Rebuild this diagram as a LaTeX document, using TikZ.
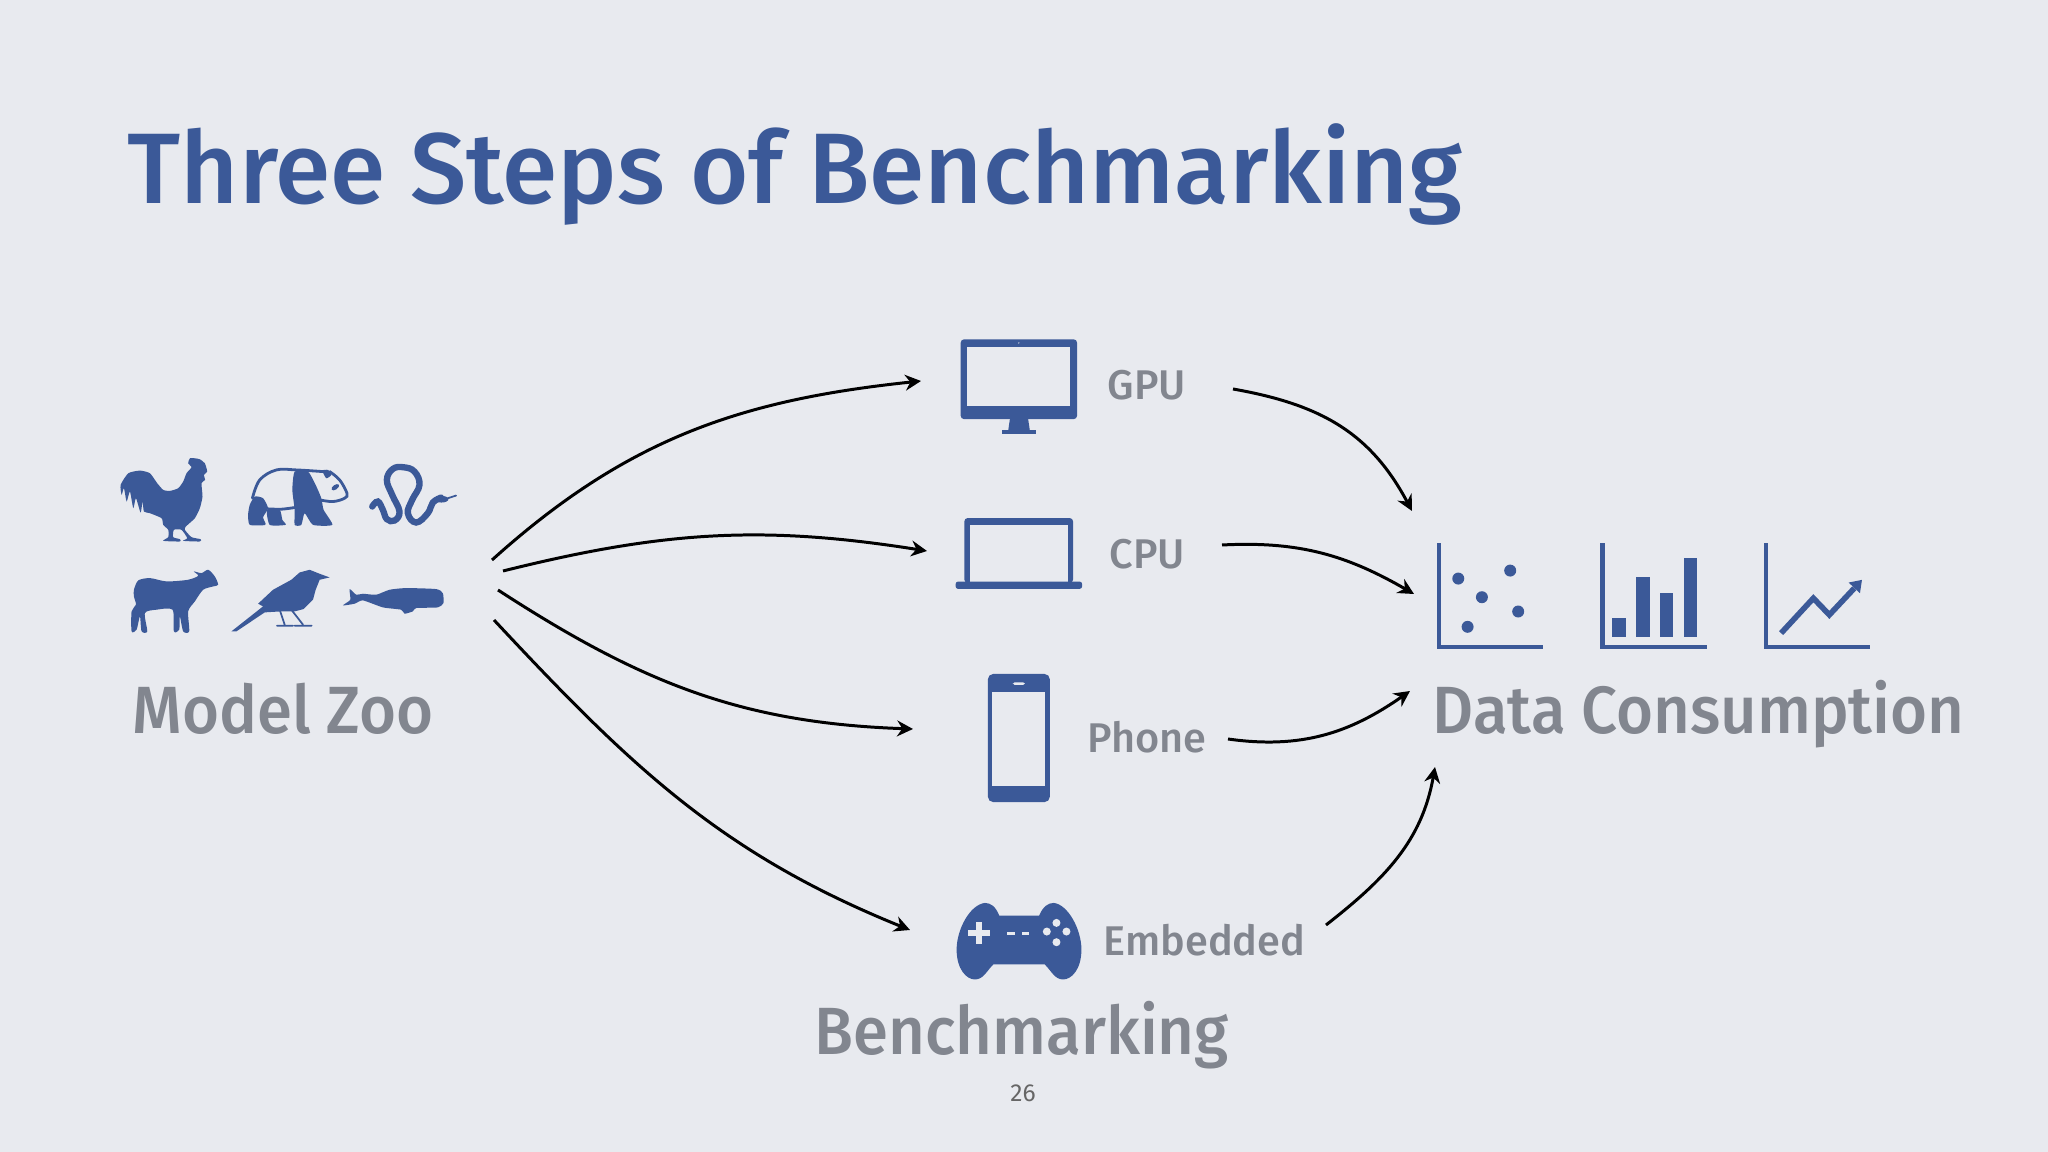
\documentclass[tikz,border=0pt]{standalone}
\usepackage{fontspec}
\setmainfont{Fira Sans Medium}
\newfontfamily\headfont{Fira Sans Medium}[FakeStretch=0.95]
\newfontfamily\pagefont{Fira Sans}
\usetikzlibrary{arrows.meta}
\definecolor{fbblue}{HTML}{3B5998}
\definecolor{slidebg}{HTML}{E8EAEF}
\definecolor{labelgray}{HTML}{82868F}
\begin{document}
\begin{tikzpicture}[
x=0.01cm,y=-0.01cm,
titlenode/.style={anchor=base west, inner sep=0pt, text=fbblue, font=\fontsize{28.5pt}{32pt}\selectfont},
headnode/.style={anchor=base west, inner sep=0pt, text=labelgray, font=\headfont\fontsize{19pt}{22pt}\selectfont},
devnode/.style={anchor=base west, inner sep=0pt, text=labelgray, font=\fontsize{11.8pt}{14pt}\selectfont},
pagenode/.style={inner sep=0pt, text=black!60, font=\pagefont\fontsize{7pt}{8pt}\selectfont},
link/.style={-{Stealth[length=4.5pt,width=4.5pt]}, line width=0.85pt, black},
icon/.style={fill=fbblue, draw=none},
hole/.style={fill=slidebg, draw=none},
axisline/.style={draw=fbblue, line width=1.3pt, line join=miter},
thinline/.style={draw=fbblue, line width=0.5pt, line cap=round}
]
    \fill [slidebg] (0,0) rectangle (2048,1152);

    \node [titlenode] (title) at (127,204) {Three Steps of Benchmarking};
    \node [headnode] (zoo) at (132,733) {Model Zoo};
    \node [headnode] (data) at (1432,733) {Data Consumption};
    \node [headnode] (bench) at (814,1054) {Benchmarking};
    \node [devnode] (gpu) at (1107,400) {GPU};
    \node [devnode] (cpu) at (1109,568) {CPU};
    \node [devnode] (phone) at (1087,752) {Phone};
    \node [devnode] (embedded) at (1103,955) {Embedded};
    \node [pagenode] (page) at (1023,1093) {26};

    % animals
    \begin{scope}[shift={(100,430)},x=0.00333cm,y=-0.00333cm]
    \fill [icon] plot [smooth cycle,tension=0.35] coordinates {(62,165) (85,130) (120,122) (150,130) (172,160) (190,180) (210,183) (235,175) (250,155) (260,130) (275,112) (265,100) (270,85) (285,85) (300,88) (315,100) (322,125) (312,135) (316,150) (305,160) (308,200) (300,235) (285,265) (258,290) (255,300) (275,322) (302,328) (300,335) (250,333) (262,325) (245,300) (222,300) (220,322) (240,328) (240,335) (190,333) (205,322) (205,300) (190,285) (185,265) (150,250) (132,245) (128,215) (122,248) (108,205) (100,235) (90,185) (80,215) (72,175) (65,195)};

    \draw [thinline,line width=0.8pt] plot [smooth,tension=0.6] coordinates {(458,205) (480,150) (530,120) (590,120) (670,125)};
    \draw [thinline,line width=0.8pt] plot [smooth,tension=0.6] coordinates {(505,237) (545,238) (585,233)};
    \draw [thinline,line width=0.8pt] plot [smooth,tension=0.6] coordinates {(690,125) (720,150) (742,190) (735,205) (700,215) (660,210)};
    \fill [icon] plot [smooth cycle,tension=0.35] coordinates {(585,125) (625,125) (648,165) (665,205) (672,240) (698,285) (640,285) (615,250) (605,285) (585,285) (585,240) (578,180)};
    \fill [icon] plot [smooth cycle,tension=0.35] coordinates {(465,200) (490,205) (505,235) (490,262) (497,285) (450,285) (445,255) (450,225)};
    \fill [icon] plot [smooth cycle,tension=0.35] coordinates {(502,240) (540,240) (548,270) (558,285) (510,285)};
    \fill [icon] plot [smooth cycle,tension=0.35] coordinates {(668,122) (685,120) (695,135) (680,145)};
    \fill [icon,rotate around={35:(707,172)}] (707,172) ellipse [x radius=13,y radius=7];

    \draw [fbblue,line width=1.8pt,line cap=round] plot [smooth,tension=0.7] coordinates {(818,230) (835,215) (850,240) (862,268) (885,272) (900,245) (878,195) (862,150) (880,117) (912,112) (945,125) (960,165) (938,210) (925,250) (950,278) (985,250) (1000,218) (1025,203)};
    \fill [icon] (1026,208) ellipse [x radius=21,y radius=10];
    \draw [thinline] (1045,205) -- (1070,197);

    \fill [icon] plot [smooth cycle,tension=0.45] coordinates {(102,480) (115,452) (150,445) (200,455) (265,450) (295,438) (282,425) (305,430) (325,420) (345,440) (355,465) (340,470) (310,480) (285,515) (265,545) (268,605) (250,605) (240,560) (238,600) (222,605) (218,540) (170,540) (135,550) (142,605) (125,605) (120,560) (110,600) (95,605) (95,545) (108,525) (102,500)};

    \fill [icon] (395,605) -- (490,530) -- (475,522) -- (520,480) -- (575,450) -- (600,428) -- (630,420) -- (660,432) -- (690,443) -- (660,450) -- (648,480) -- (640,510) -- (612,538) -- (585,545) -- (545,545) -- (495,548) -- (410,605) -- cycle;
    \draw [thinline] (540,540) -- (555,585) (575,540) -- (610,585) (532,588) -- (580,588) (585,588) -- (636,588);

    \fill [icon] plot [smooth cycle,tension=0.35] coordinates {(730,527) (752,510) (750,478) (770,495) (790,492) (830,495) (870,480) (920,475) (1010,478) (1030,490) (1032,520) (1015,533) (950,535) (940,545) (915,552) (905,540) (850,533) (790,512) (765,522)};
    \end{scope}

    % monitor and laptop
    \begin{scope}[shift={(930,320)},x=0.00333cm,y=-0.00333cm]
    \fill [icon,rounded corners=1pt] (92,58) rectangle (442,298);
    \fill [hole] (112,82) rectangle (422,258);
    \fill [hole] (267,69) circle (2);
    \fill [icon] (240,298) -- (295,298) -- (300,332) -- (235,332) -- cycle;
    \fill [icon] (217,331) rectangle (317,342);
    \fill [icon,rounded corners=1pt] (103,595) rectangle (430,790);
    \fill [hole] (120,615) rectangle (414,787);
    \fill [icon,rounded corners=0.7pt] (77,786) rectangle (457,808);
    \end{scope}

    % phone and gamepad
    \begin{scope}[shift={(930,650)},x=0.00333cm,y=-0.00333cm]
    \fill [icon,rounded corners=1.5pt] (174,72) rectangle (360,457);
    \fill [hole] (187,125) rectangle (347,409);
    \fill [hole,rounded corners=0.5pt] (249,97) rectangle (285,105);
    \fill [icon] (208,798) -- (328,798) .. controls (340,770) and (355,760) .. (372,760) .. controls (415,765) and (455,840) .. (455,900) .. controls (455,960) and (425,990) .. (400,990) .. controls (375,990) and (365,965) .. (345,945) -- (190,945) .. controls (170,965) and (160,990) .. (135,990) .. controls (110,990) and (80,960) .. (80,900) .. controls (80,840) and (120,765) .. (165,760) .. controls (182,760) and (197,770) .. (208,798) -- cycle;
    \fill [hole] (115,842) rectangle (181,860);
    \fill [hole] (139,818) rectangle (157,884);
    \fill [hole] (232,848) rectangle (254,857);
    \fill [hole] (276,848) rectangle (298,857);
    \foreach \bx/\by in {380/820,351/846,410/846,380/878}
        \fill [hole] (\bx,\by) circle (12);
    \end{scope}

    % charts
    \begin{scope}[shift={(1420,520)},x=0.00333cm,y=-0.00333cm]
    \draw [axisline] (57,70) -- (57,381) -- (371,381);
    \foreach \dx/\dy in {115/176,271/152,186/232,295/275,143/321}
        \fill [icon] (\dx,\dy) circle (18);
    \draw [axisline] (548,70) -- (548,381) -- (862,381);
    \fill [icon] (578,293) rectangle (618,352);
    \fill [icon] (649,172) rectangle (690,352);
    \fill [icon] (720,219) rectangle (761,352);
    \fill [icon] (792,114) rectangle (832,352);
    \draw [axisline] (1040,70) -- (1040,381) -- (1353,381);
    \draw [fbblue,line width=1.6pt] (1085,340) -- (1182,235) -- (1230,285) -- (1305,205);
    \fill [icon] (1328,180) -- (1288,188) -- (1322,220) -- cycle;
    \end{scope}

    % arrow ends
    \coordinate (zooa) at (492,560);
    \coordinate (zoob) at (503,571);
    \coordinate (zooc) at (498,590);
    \coordinate (zood) at (494,620);
    \coordinate (gpuin) at (921,381);
    \coordinate (cpuin) at (927,551);
    \coordinate (phonein) at (913,729);
    \coordinate (embin) at (910,930);
    \coordinate (gpuout) at (1233,389);
    \coordinate (cpuout) at (1222,545);
    \coordinate (phoneout) at (1228,739);
    \coordinate (embout) at (1326,925);
    \coordinate (dataa) at (1412,511);
    \coordinate (datab) at (1414,594);
    \coordinate (datac) at (1410,691);
    \coordinate (datad) at (1435,767);

    \draw [link] (zooa) to [out=42,in=186] (gpuin);
    \draw [link] (zoob) to [out=14,in=171] (cpuin);
    \draw [link] (zooc) to [out=-33,in=178] (phonein);
    \draw [link] (zood) to [out=-47,in=158] (embin);
    \draw [link] (gpuout) to [out=-10,in=118,looseness=1.05] (dataa);
    \draw [link] (cpuout) to [out=3,in=150] (datab);
    \draw [link] (phoneout) to [out=-8,in=215] (datac);
    \draw [link] (embout) to [out=38,in=-100] (datad);
\end{tikzpicture}
\end{document}
